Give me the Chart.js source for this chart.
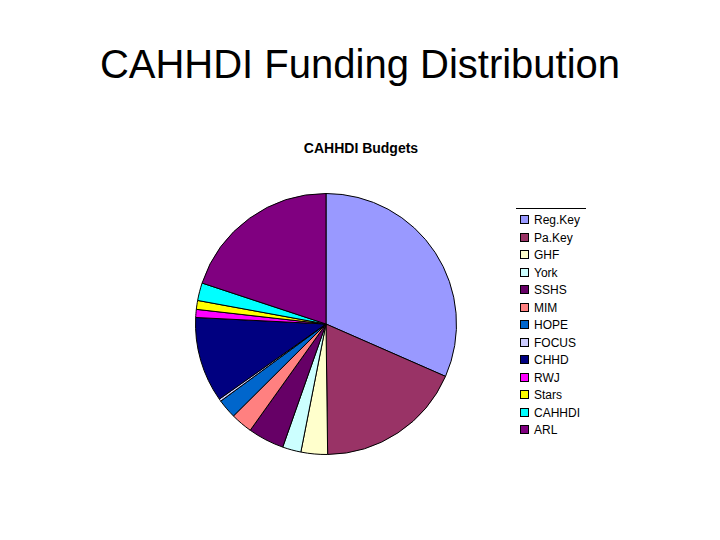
<!DOCTYPE html>
<html><head><meta charset="utf-8">
<script src="https://cdn.jsdelivr.net/npm/chart.js@4"></script>
<style>
body{margin:0;width:720px;height:540px;background:#fff;font-family:"Liberation Sans",Arial,sans-serif;position:relative;overflow:hidden}
#t{position:absolute;top:42px;left:0;width:720px;text-align:center;font-size:40px;color:#000}
#st{position:absolute;top:140px;left:0;width:722px;text-align:center;font-size:14px;font-weight:bold}
#c{position:absolute;left:193px;top:191px;width:266px;height:266px}
#lg{position:absolute;left:516px;top:208px;width:70px;border-top:1px solid #000;padding-top:3px;font-size:12px}
#lg div{height:17.5px;line-height:17.5px;white-space:nowrap}
#lg span{display:inline-block;width:7px;height:7px;border:1px solid #000;margin:0 5px 0 4px;vertical-align:0}
</style></head><body>
<div id="t">CAHHDI Funding Distribution</div>
<div id="st">CAHHDI Budgets</div>
<div id="c"><canvas id="cv"></canvas></div>
<div id="lg"></div>
<script>
const categories=["Reg.Key","Pa.Key","GHF","York","SSHS","MIM","HOPE","FOCUS","CHHD","RWJ","Stars","CAHHDI","ARL"];
const values=[31.7,18.3,3.3,2.3,4.5,2.7,2.4,0.3,10.6,1.0,1.1,2.2,20.0];
const colors=["#9999FF","#993366","#FFFFCC","#CCFFFF","#660066","#FF8080","#0066CC","#CCCCFF","#000080","#FF00FF","#FFFF00","#00FFFF","#800080"];
const lg=document.getElementById('lg');
categories.forEach((c,i)=>{const d=document.createElement('div');d.innerHTML='<span style="background:'+colors[i]+'"></span>'+c;lg.appendChild(d);});
new Chart(document.getElementById('cv'),{type:'pie',data:{labels:categories,datasets:[{data:values,backgroundColor:colors,borderColor:'#000',borderWidth:1}]},
options:{responsive:true,maintainAspectRatio:false,animation:false,layout:{padding:2},plugins:{legend:{display:false},tooltip:{enabled:false}}}});
</script></body></html>
